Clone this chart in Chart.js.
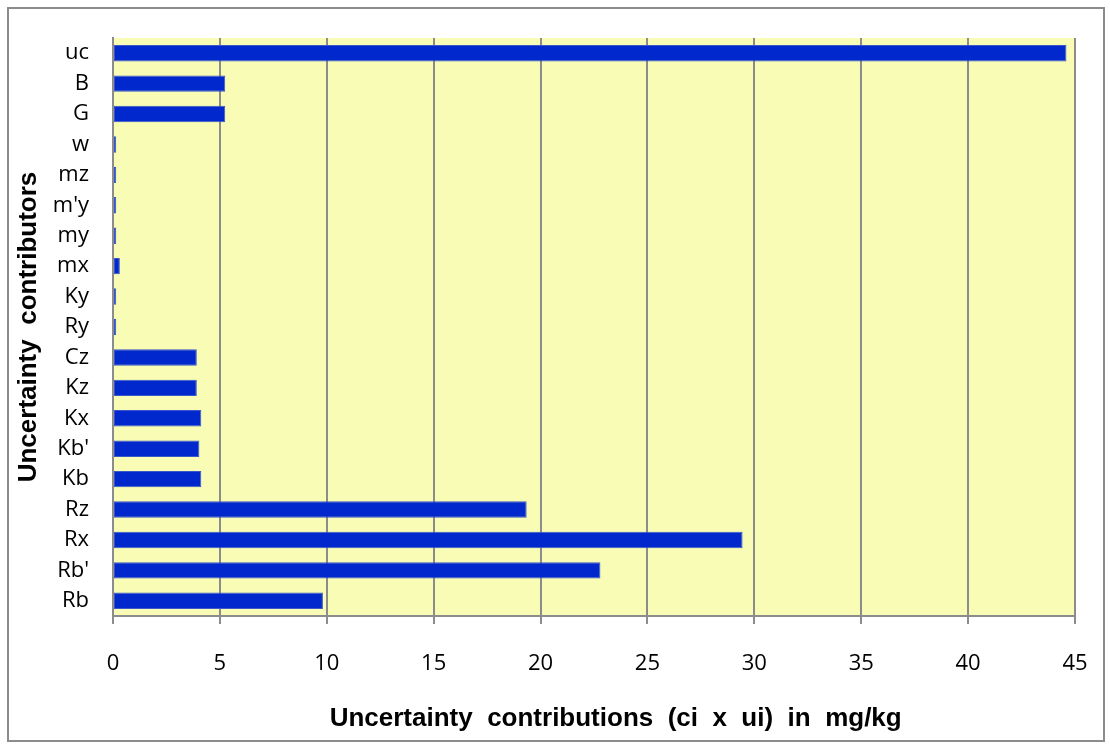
<!DOCTYPE html>
<html>
<head>
<meta charset="utf-8">
<script src="https://cdn.jsdelivr.net/npm/chart.js@4/dist/chart.umd.min.js"></script>
<style>
  html, body { margin: 0; padding: 0; background: #fff; }
  #wrap { position: relative; width: 1110px; height: 747px; }
  #frame { position: absolute; left: 7px; top: 7px; width: 1094px; height: 731px; border: 2px solid #8c8c8c; pointer-events: none; }
  canvas { position: absolute; left: 0; top: 0; }
</style>
</head>
<body>
<div id="wrap">
  <canvas id="chart" width="1110" height="747"></canvas>
  <div id="frame"></div>
</div>
<script>
// contributors, listed top to bottom as in the chart
const contributors = ["uc", "B", "G", "w", "mz", "m'y", "my", "mx", "Ky", "Ry",
  "Cz", "Kz", "Kx", "Kb'", "Kb", "Rz", "Rx", "Rb'", "Rb"];
const contributions = [44.6, 5.25, 5.25, 0.15, 0.15, 0.15, 0.15, 0.32, 0.15, 0.15,
  3.92, 3.92, 4.13, 4.04, 4.13, 19.35, 29.45, 22.8, 9.82];
const xTicks = [0, 5, 10, 15, 20, 25, 30, 35, 40, 45];

const plotBg = {
  id: "plotBg",
  beforeDraw(chart) {
    const { ctx, chartArea: a } = chart;
    ctx.save();
    ctx.fillStyle = "#f8fcb4";
    ctx.fillRect(a.left, a.top, a.right - a.left, a.bottom - a.top);
    ctx.restore();
  },
};

new Chart(document.getElementById("chart").getContext("2d"), {
  type: "bar",
  data: {
    labels: contributors,
    datasets: [{
      data: contributions,
      backgroundColor: "#0028cc",
      borderColor: "#3a58cc",
      borderWidth: 1,
      borderSkipped: false,
      categoryPercentage: 1,
      barPercentage: 0.54,
    }],
  },
  options: {
    indexAxis: "y",
    responsive: false,
    animation: false,
    layout: { padding: { top: 38, right: 35, left: 0, bottom: 0 } },
    plugins: { legend: { display: false }, tooltip: { enabled: false } },
    scales: {
      x: {
        min: 0, max: 45,
        afterBuildTicks(scale) { scale.ticks = xTicks.map((v) => ({ value: v })); },
        afterFit(scale) {
          scale.height = 131;
          scale.paddingLeft = 0;
          scale.paddingRight = 0;
        },
        grid: { color: "#8c8c8c", lineWidth: 2, drawTicks: true, tickLength: 8 },
        border: { color: "#8c8c8c", width: 2 },
        ticks: { color: "#000", font: { family: "Open Sans", size: 22 }, padding: 27, maxRotation: 0 },
        title: {
          display: true,
          // leading spaces: the original title sits a little right of the plot centre
          text: "      Uncertainty  contributions  (ci  x  ui)  in  mg/kg",
          color: "#000",
          font: { family: "Liberation Sans", size: 26, weight: "bold" },
          padding: { top: 0, bottom: 13 },
        },
      },
      y: {
        afterFit(scale) { scale.width = 113; },
        grid: { display: false, drawTicks: false },
        border: { color: "#8c8c8c", width: 2 },
        ticks: { color: "#000", font: { family: "Open Sans", size: 22 }, padding: 24 },
        title: {
          display: true,
          text: "Uncertainty  contributors",
          color: "#000",
          font: { family: "Liberation Sans", size: 26, weight: "bold" },
          padding: { top: 13, bottom: 0 },
        },
      },
    },
  },
  plugins: [plotBg],
});
</script>
</body>
</html>
